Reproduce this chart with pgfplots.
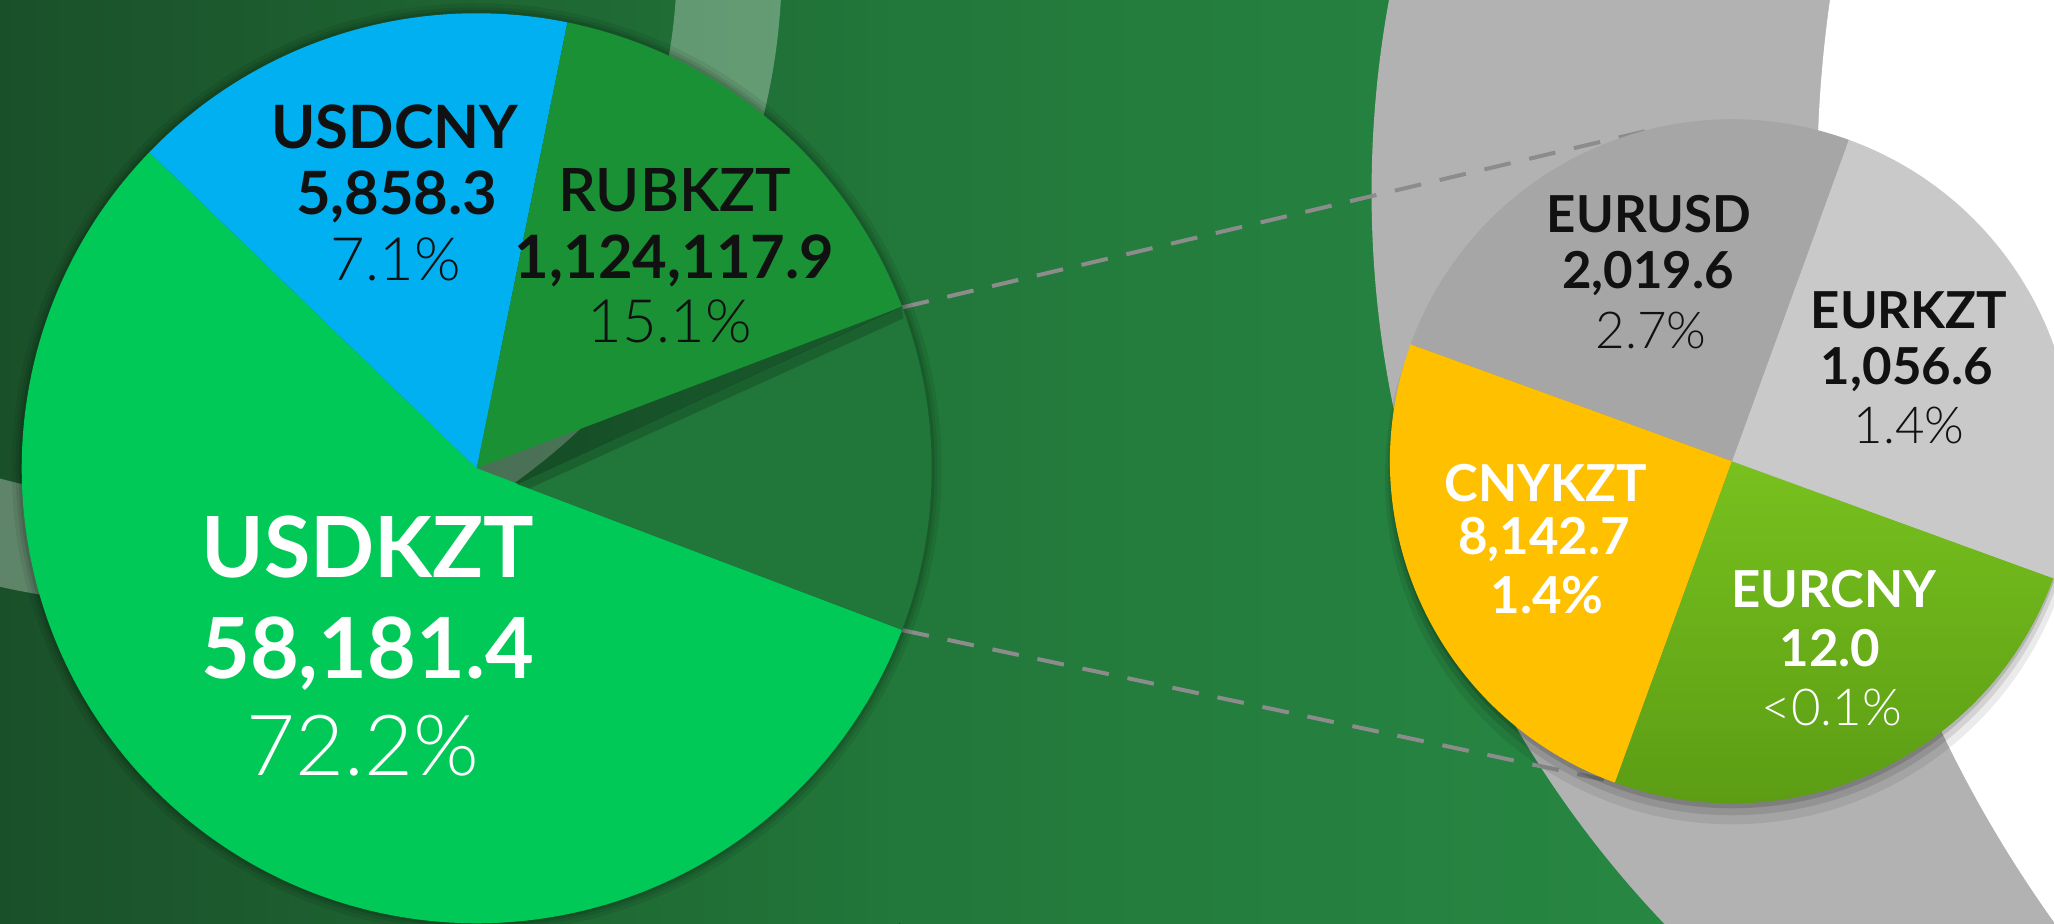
\documentclass[border=0pt]{standalone}
\usepackage{pgfplots}
\pgfplotsset{compat=1.18}
\usepackage{fontspec}
\setmainfont{Lato}
\IfFontExistsTF{Lato Light}{\newfontfamily\lightfont{Lato Light}}{\newfontfamily\lightfont{Lato}}
\IfFontExistsTF{Lato Semibold}{\newfontfamily\semifont{Lato Semibold}}{\newfontfamily\semifont{Lato}[UprightFont=*-Bold]}
\definecolor{bgA}{HTML}{1A5029}
\definecolor{bgB}{HTML}{22773A}
\definecolor{bgC}{HTML}{2A8F47}
\definecolor{ringgray}{HTML}{B2B2B2}
\definecolor{cUSDKZT}{HTML}{00C957}
\definecolor{cUSDCNY}{HTML}{00B0F0}
\definecolor{cRUBKZT}{HTML}{199134}
\definecolor{cOther}{HTML}{21763A}
\definecolor{cEURUSD}{HTML}{A6A6A6}
\definecolor{cEURKZT}{HTML}{C9C9C9}
\definecolor{cEURCNYa}{HTML}{78C11E}
\definecolor{cEURCNYb}{HTML}{589813}
\definecolor{cCNYKZT}{HTML}{FFC000}
\definecolor{dashc}{HTML}{8C8C8C}
\definecolor{txt}{HTML}{111111}
\begin{document}
\begin{tikzpicture}
\begin{axis}[
  at={(0,0)}, anchor=south west,
  x=0.01cm, y=0.01cm, y dir=reverse,
  xmin=0, xmax=2055, ymin=0, ymax=924,
  hide axis, clip=true, clip mode=global,
]
% background
\fill[left color=bgA, right color=bgB] (axis cs:0,0) rectangle (axis cs:901,924);
\fill[left color=bgB, right color=bgC] (axis cs:900,0) rectangle (axis cs:2055,924);
% translucent ring
\fill[white, opacity=0.3, even odd rule] (axis cs:142,-38) circle[radius=6.40cm] (axis cs:142,-38) circle[radius=5.35cm];
% grey band and white corner
\fill[ringgray] (axis cs:2433,192) circle[radius=10.6cm];
\fill[white] (axis cs:3095,181) circle[radius=12.76cm];
% connector lines
\addplot[dashc, line width=0.04cm, dash pattern=on 0.27cm off 0.19cm] coordinates {(903,307) (1658,128)};
\addplot[dashc, line width=0.04cm, dash pattern=on 0.27cm off 0.19cm] coordinates {(903,630) (1616,782)};
% left pie shadow
\fill[black, opacity=0.07] (axis cs:477,468) circle[radius=4.65cm];
\fill[black, opacity=0.08] (axis cs:477,468) circle[radius=4.61cm];
\fill[black, opacity=0.10] (axis cs:477,468) circle[radius=4.58cm];
% left pie
\fill[cUSDKZT] (axis cs:477,468) -- ++(136:4.55cm) arc[start angle=136, end angle=339.2, radius=4.55cm] -- cycle;
\fill[cUSDCNY] (axis cs:477,468) -- ++(78.5:4.55cm) arc[start angle=78.5, end angle=136, radius=4.55cm] -- cycle;
\fill[cRUBKZT] (axis cs:477,468) -- ++(20.8:4.55cm) arc[start angle=20.8, end angle=78.5, radius=4.55cm] -- cycle;
\fill[cOther] (axis cs:518,484) -- ([shift={(-20.8:4.55cm)}]axis cs:477,468) arc[start angle=-20.8, end angle=20.8, radius=4.55cm] -- cycle;
\fill[black, opacity=0.18] (axis cs:518,484) -- (axis cs:902,306) -- (axis cs:904,318) -- (axis cs:530,488) -- cycle;
% right pie shadow
\fill[black, opacity=0.08] (axis cs:1733,477) circle[radius=3.47cm];
\fill[black, opacity=0.10] (axis cs:1733,471) circle[radius=3.44cm];
\fill[black, opacity=0.14] (axis cs:1733,466) circle[radius=3.42cm];
% right pie
\fill[cEURUSD] (axis cs:1733,461) -- ++(70:3.42cm) arc[start angle=70, end angle=160, radius=3.42cm] -- cycle;
\fill[cCNYKZT] (axis cs:1733,461) -- ++(160:3.42cm) arc[start angle=160, end angle=250, radius=3.42cm] -- cycle;
\shade[top color=cEURCNYa, bottom color=cEURCNYb] (axis cs:1733,461) -- ++(250:3.42cm) arc[start angle=250, end angle=340, radius=3.42cm] -- cycle;
\fill[cEURKZT] (axis cs:1733,461) -- ++(340:3.42cm) arc[start angle=340, end angle=430, radius=3.42cm] -- cycle;
% left labels
\node[anchor=base, inner sep=0pt, text=white, font=\bfseries\fontsize{24}{28}\selectfont] at (axis cs:368,577) {USDKZT};
\node[anchor=base, inner sep=0pt, text=white, font=\bfseries\fontsize{24}{28}\selectfont] at (axis cs:368,678) {58,181.4};
\node[anchor=base, inner sep=0pt, text=white, font=\lightfont\fontsize{24}{28}\selectfont] at (axis cs:363,775) {72.2\%};
\node[anchor=base, inner sep=0pt, text=txt, font=\bfseries\fontsize{17}{20}\selectfont] at (axis cs:395,148) {USDCNY};
\node[anchor=base, inner sep=0pt, text=txt, font=\bfseries\fontsize{17}{20}\selectfont] at (axis cs:397,214) {5,858.3};
\node[anchor=base, inner sep=0pt, text=txt, font=\lightfont\fontsize{17}{20}\selectfont] at (axis cs:396,280) {7.1\%};
\node[anchor=base, inner sep=0pt, text=txt, font=\semifont\fontsize{17}{20}\selectfont] at (axis cs:675,211) {RUBKZT};
\node[anchor=base, inner sep=0pt, text=txt, font=\bfseries\fontsize{17}{20}\selectfont] at (axis cs:675,278) {1,124,117.9};
\node[anchor=base, inner sep=0pt, text=txt, font=\lightfont\fontsize{17}{20}\selectfont] at (axis cs:670,342) {15.1\%};
% right labels
\node[anchor=base, inner sep=0pt, text=txt, font=\bfseries\fontsize{14.5}{17}\selectfont] at (axis cs:1650,232) {EURUSD};
\node[anchor=base, inner sep=0pt, text=txt, font=\bfseries\fontsize{14.5}{17}\selectfont] at (axis cs:1649,288) {2,019.6};
\node[anchor=base, inner sep=0pt, text=txt, font=\lightfont\fontsize{14.5}{17}\selectfont] at (axis cs:1652,348) {2.7\%};
\node[anchor=base, inner sep=0pt, text=txt, font=\bfseries\fontsize{14.5}{17}\selectfont] at (axis cs:1910,328) {EURKZT};
\node[anchor=base, inner sep=0pt, text=txt, font=\bfseries\fontsize{14.5}{17}\selectfont] at (axis cs:1908,384) {1,056.6};
\node[anchor=base, inner sep=0pt, text=txt, font=\lightfont\fontsize{14.5}{17}\selectfont] at (axis cs:1910,443) {1.4\%};
\node[anchor=base, inner sep=0pt, text=white, font=\bfseries\fontsize{14.5}{17}\selectfont] at (axis cs:1547,501) {CNYKZT};
\node[anchor=base, inner sep=0pt, text=white, font=\bfseries\fontsize{14.5}{17}\selectfont] at (axis cs:1545,554) {8,142.7};
\node[anchor=base, inner sep=0pt, text=white, font=\bfseries\fontsize{14.5}{17}\selectfont] at (axis cs:1548,613) {1.4\%};
\node[anchor=base, inner sep=0pt, text=white, font=\bfseries\fontsize{14.5}{17}\selectfont] at (axis cs:1835,607) {EURCNY};
\node[anchor=base, inner sep=0pt, text=white, font=\bfseries\fontsize{14.5}{17}\selectfont] at (axis cs:1831,666) {12.0};
\node[anchor=base, inner sep=0pt, text=white, font=\lightfont\fontsize{14.5}{17}\selectfont] at (axis cs:1833,725) {<0.1\%};
\end{axis}
\pgfresetboundingbox
\path[use as bounding box] (0,0) rectangle (20.55cm,9.24cm);
\end{tikzpicture}
\end{document}
